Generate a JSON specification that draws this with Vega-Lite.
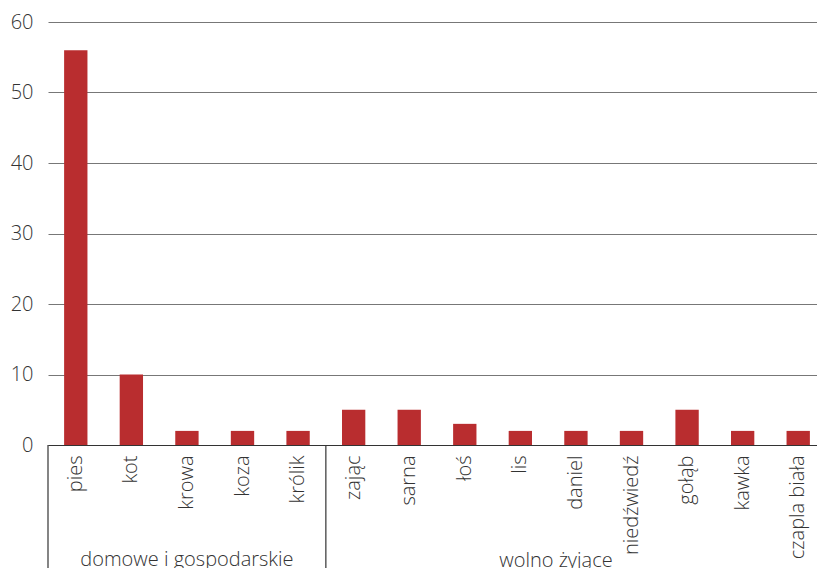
{
  "$schema": "https://vega.github.io/schema/vega-lite/v6.json",
  "width": 778,
  "height": 423,
  "autosize": {"type": "none"},
  "padding": {"left": 48, "top": 22, "right": 0, "bottom": 123},
  "background": "white",
  "config": {"view": {"stroke": null}, "font": "Open Sans"},
  "data": {
    "values": [
      {"animal": "pies", "group": "domowe i gospodarskie", "value": 56},
      {"animal": "kot", "group": "domowe i gospodarskie", "value": 10},
      {"animal": "krowa", "group": "domowe i gospodarskie", "value": 2},
      {"animal": "koza", "group": "domowe i gospodarskie", "value": 2},
      {"animal": "królik", "group": "domowe i gospodarskie", "value": 2},
      {"animal": "zając", "group": "wolno żyjące", "value": 5},
      {"animal": "sarna", "group": "wolno żyjące", "value": 5},
      {"animal": "łoś", "group": "wolno żyjące", "value": 3},
      {"animal": "lis", "group": "wolno żyjące", "value": 2},
      {"animal": "daniel", "group": "wolno żyjące", "value": 2},
      {"animal": "niedźwiedź", "group": "wolno żyjące", "value": 2},
      {"animal": "gołąb", "group": "wolno żyjące", "value": 5},
      {"animal": "kawka", "group": "wolno żyjące", "value": 2},
      {"animal": "czapla biała", "group": "wolno żyjące", "value": 2}
    ]
  },
  "layer": [
    {
      "mark": {"type": "bar", "color": "#B92D2F", "width": {"band": 0.42}},
      "encoding": {
        "x": {
          "field": "animal", "type": "nominal", "sort": null,
          "scale": {"paddingInner": 0, "paddingOuter": 0},
          "axis": {
            "title": null, "labelAngle": -90, "labelAlign": "right", "labelBaseline": "middle",
            "labelFontSize": 20, "labelFontWeight": 300, "labelColor": "#333", "labelPadding": 10,
            "ticks": false, "domainColor": "#333", "domainWidth": 1.2
          }
        },
        "y": {
          "field": "value", "type": "quantitative",
          "scale": {"domain": [0, 60]},
          "axis": {
            "title": null, "values": [0, 10, 20, 30, 40, 50, 60], "domain": false, "ticks": false,
            "labelPadding": 15, "labelFontSize": 20, "labelFontWeight": 300, "labelColor": "#333",
            "gridColor": "#777", "gridWidth": 1
          }
        }
      }
    },
    {
      "transform": [{"filter": "datum.animal === 'pies' || datum.animal === 'zając'"}],
      "mark": {"type": "rule", "color": "#333", "strokeWidth": 1.2, "clip": false},
      "encoding": {
        "x": {"field": "animal", "type": "nominal", "sort": null, "bandPosition": 0},
        "y": {"datum": 0},
        "y2": {"datum": -18}
      }
    },
    {
      "transform": [{"filter": "datum.animal === 'krowa'"}],
      "mark": {"type": "text", "fontSize": 20, "fontWeight": 300, "color": "#333", "align": "center", "baseline": "alphabetic", "clip": false},
      "encoding": {
        "x": {"field": "animal", "type": "nominal", "sort": null, "bandPosition": 0.5},
        "y": {"datum": -17.2},
        "text": {"field": "group"}
      }
    },
    {
      "transform": [{"filter": "datum.animal === 'daniel'"}],
      "mark": {"type": "text", "fontSize": 20, "fontWeight": 300, "color": "#333", "align": "center", "baseline": "alphabetic", "clip": false},
      "encoding": {
        "x": {"field": "animal", "type": "nominal", "sort": null, "bandPosition": 0.14},
        "y": {"datum": -17.3},
        "text": {"field": "group"}
      }
    }
  ]
}
